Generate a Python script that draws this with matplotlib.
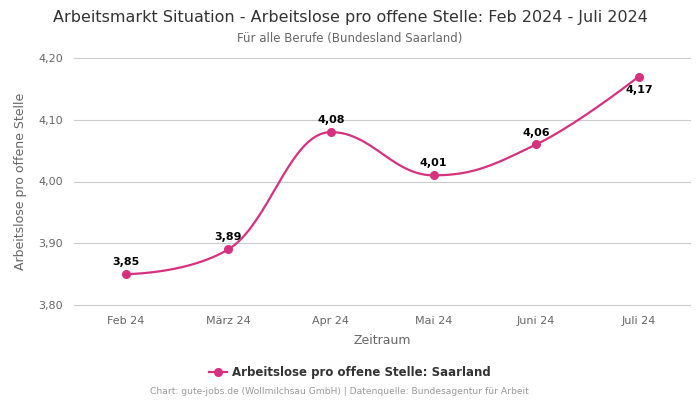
import numpy as np
import matplotlib
matplotlib.use("Agg")
import matplotlib.pyplot as plt
from matplotlib.ticker import FuncFormatter

# --- data ---
months = ["Feb 24", "März 24", "Apr 24", "Mai 24", "Juni 24", "Juli 24"]
values = [3.85, 3.89, 4.08, 4.01, 4.06, 4.17]
yticks = [3.80, 3.90, 4.00, 4.10, 4.20]

COLOR = "#d6317f"


def spline_curve(x, y, smoothing=1.5, n=40):
    # bezier spline with neighbour-based control points (Highcharts-style)
    x = np.asarray(x, float)
    y = np.asarray(y, float)
    k = len(x)
    lc = [(x[i], y[i]) for i in range(k)]
    rc = [(x[i], y[i]) for i in range(k)]
    den = smoothing + 1
    for i in range(1, k - 1):
        lx = (smoothing * x[i] + x[i - 1]) / den
        ly = (smoothing * y[i] + y[i - 1]) / den
        rx = (smoothing * x[i] + x[i + 1]) / den
        ry = (smoothing * y[i] + y[i + 1]) / den
        corr = (ry - ly) * (rx - x[i]) / (rx - lx) + y[i] - ry
        ly += corr
        ry += corr
        if ly > y[i - 1] and ly > y[i]:
            ly = max(y[i - 1], y[i]); ry = 2 * y[i] - ly
        elif ly < y[i - 1] and ly < y[i]:
            ly = min(y[i - 1], y[i]); ry = 2 * y[i] - ly
        if ry > y[i + 1] and ry > y[i]:
            ry = max(y[i + 1], y[i]); ly = 2 * y[i] - ry
        elif ry < y[i + 1] and ry < y[i]:
            ry = min(y[i + 1], y[i]); ly = 2 * y[i] - ry
        lc[i] = (lx, ly)
        rc[i] = (rx, ry)
    xs, ys = [], []
    t = np.linspace(0, 1, n)
    for i in range(k - 1):
        p0 = (x[i], y[i]); p1 = rc[i]; p2 = lc[i + 1]; p3 = (x[i + 1], y[i + 1])
        b = [(1 - t)**3, 3 * (1 - t)**2 * t, 3 * (1 - t) * t**2, t**3]
        xs.append(b[0] * p0[0] + b[1] * p1[0] + b[2] * p2[0] + b[3] * p3[0])
        ys.append(b[0] * p0[1] + b[1] * p1[1] + b[2] * p2[1] + b[3] * p3[1])
    return np.concatenate(xs), np.concatenate(ys)


xpos = np.arange(len(months))
cx, cy = spline_curve(xpos, values)

fig = plt.figure(figsize=(7, 4), dpi=100)
ax = fig.add_axes([0.106, 0.2375, 0.88, 0.6175])

ax.plot(cx, cy, color=COLOR, lw=1.6, zorder=3)
ax.plot(xpos, values, "o", color=COLOR, ms=5.5, zorder=4)

for i, v in enumerate(values):
    lbl = f"{v:.2f}".replace(".", ",")
    if i == len(values) - 1:
        ax.annotate(lbl, (i, v), xytext=(0, -6), textcoords="offset points",
                    ha="center", va="top", fontsize=8, fontweight="bold")
    else:
        ax.annotate(lbl, (i, v), xytext=(0, 5), textcoords="offset points",
                    ha="center", va="bottom", fontsize=8, fontweight="bold")

ax.set_xlim(-0.5, len(months) - 0.5)
ax.set_ylim(3.80, 4.20)
ax.set_xticks(xpos)
ax.set_xticklabels(months)
ax.set_yticks(yticks)
ax.yaxis.set_major_formatter(FuncFormatter(lambda v, p: f"{v:.2f}".replace(".", ",")))
ax.tick_params(length=0, labelsize=8, colors="#666666", pad=8)
ax.grid(axis="y", color="#cccccc", lw=0.8)
for gl in ax.get_ygridlines():
    gl.set_clip_on(False)
ax.set_axisbelow(True)
for s in ax.spines.values():
    s.set_visible(False)

ax.set_xlabel("Zeitraum", fontsize=9, color="#666666", labelpad=6)
ax.set_ylabel("Arbeitslose pro offene Stelle", fontsize=9, color="#666666", labelpad=8)

fig.text(0.5, 0.956, "Arbeitsmarkt Situation - Arbeitslose pro offene Stelle: Feb 2024 - Juli 2024",
         ha="center", va="center", fontsize=11.5, color="#333333")
fig.text(0.5, 0.903, "Für alle Berufe (Bundesland Saarland)",
         ha="center", va="center", fontsize=8.5, color="#666666")

leg = fig.legend([plt.Line2D([], [], color=COLOR, marker="o", ms=5.5, lw=1.6)],
                 ["Arbeitslose pro offene Stelle: Saarland"],
                 loc="center", bbox_to_anchor=(0.5, 0.068), frameon=False,
                 prop={"weight": "bold", "size": 8.5}, handlelength=1.5, handletextpad=0.5)
for t in leg.get_texts():
    t.set_color("#333333")

fig.text(0.485, 0.02, "Chart: gute-jobs.de (Wollmilchsau GmbH) | Datenquelle: Bundesagentur für Arbeit",
         ha="center", va="center", fontsize=6.6, color="#999999")

fig.savefig("out.png", dpi=100)
